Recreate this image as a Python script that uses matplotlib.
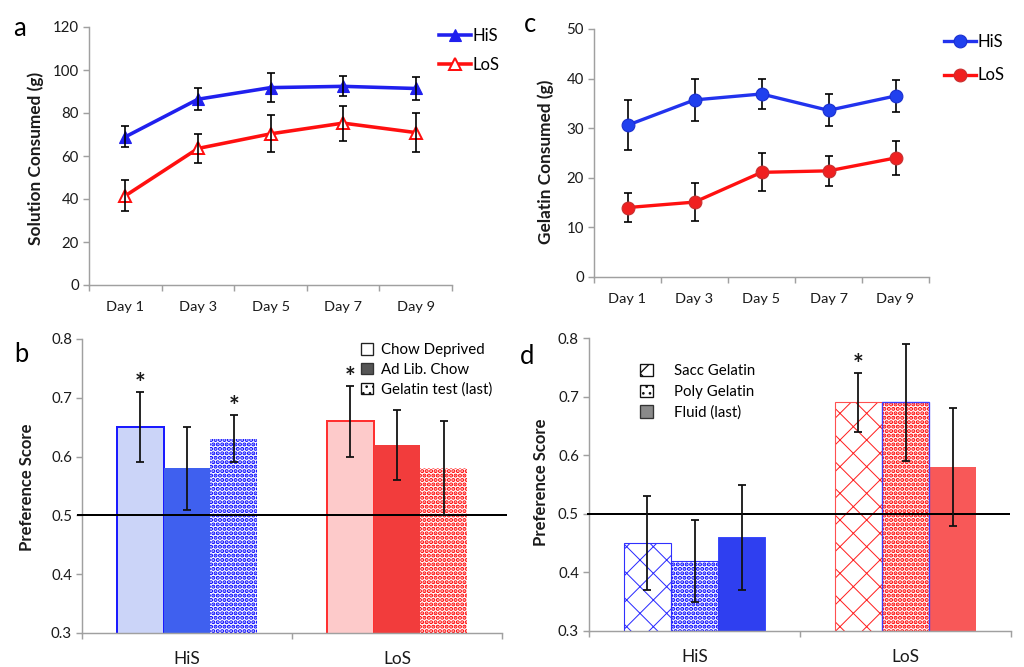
import matplotlib
matplotlib.use("Agg")
import matplotlib.pyplot as plt
from matplotlib.patches import Patch
import numpy as np

plt.rcParams['font.family'] = ['Lato', 'DejaVu Sans']
plt.rcParams['hatch.linewidth'] = 1.2

# ---------------- data ----------------
days = ["Day 1", "Day 3", "Day 5", "Day 7", "Day 9"]

sol_his = [68.9, 86.4, 91.8, 92.4, 91.4]
sol_his_err = [4.9, 5.0, 6.6, 4.6, 5.2]
sol_los = [41.5, 63.5, 70.3, 75.3, 70.9]
sol_los_err = [7.2, 6.8, 8.6, 8.1, 9.0]

gel_his = [30.6, 35.7, 36.9, 33.6, 36.5]
gel_his_err = [5.0, 4.3, 3.0, 3.2, 3.3]
gel_los = [14.0, 15.1, 21.1, 21.4, 24.0]
gel_los_err = [2.9, 3.8, 3.8, 3.0, 3.5]

groups = ["HiS", "LoS"]
b_labels = ["Chow Deprived", "Ad Lib. Chow", "Gelatin test (last)"]
b_chow_dep = [0.65, 0.66]
b_chow_dep_err = [0.06, 0.06]
b_adlib = [0.58, 0.62]
b_adlib_err = [0.07, 0.06]
b_gel = [0.63, 0.58]
b_gel_err = [0.04, 0.08]
b_sig = [[True, False, True], [True, False, False]]

d_labels = ["Sacc Gelatin", "Poly Gelatin", "Fluid (last)"]
d_sacc = [0.45, 0.69]
d_sacc_err = [0.08, 0.05]
d_poly = [0.42, 0.69]
d_poly_err = [0.07, 0.10]
d_fluid = [0.46, 0.58]
d_fluid_err = [0.09, 0.10]
d_sig = [[False, False, False], [True, False, False]]

# ---------------- figure ----------------
DPI = 80
W, H = 1024, 667
fig = plt.figure(figsize=(W / DPI, H / DPI), dpi=DPI)

SPINE = '#a0a0a0'
TXT = '#1a1a1a'
BLUE = '#2020ee'
RED = '#ff1010'
DOT_LW = 2.6


def px_axes(l, t, r, b):
    return fig.add_axes([l / W, 1 - b / H, (r - l) / W, (b - t) / H])


def style_axes(ax, ncat):
    for s in ['top', 'right']:
        ax.spines[s].set_visible(False)
    for s in ['left', 'bottom']:
        ax.spines[s].set_color(SPINE)
        ax.spines[s].set_linewidth(1.3)
    ax.set_xlim(-0.5, ncat - 0.5)
    ax.set_xticks(np.arange(ncat + 1) - 0.5)
    ax.set_xticklabels([])
    ax.tick_params(axis='x', which='major', direction='out', length=5, color=SPINE, width=1.3)
    ax.tick_params(axis='y', which='major', direction='out', length=5, color=SPINE, width=1.3,
                   labelsize=13.5, labelcolor=TXT, pad=4)


def fpx(x, y):
    return x / W, 1 - y / H


# ---------- panel a ----------
ax_a = px_axes(89, 27, 452, 285)
style_axes(ax_a, len(days))
x = np.arange(len(days))
ax_a.set_xticks(x, minor=True)
ax_a.set_xticklabels(days, minor=True)
ax_a.tick_params(axis='x', which='minor', length=0, labelsize=13, labelcolor=TXT, pad=14)
ax_a.set_ylim(0, 120)
ax_a.set_yticks(np.arange(0, 121, 20))
l1, = ax_a.plot(x, sol_his, color=BLUE, lw=3.2, marker='^', ms=11, mfc=BLUE, mec=BLUE, zorder=3,
                label='HiS')
l2, = ax_a.plot(x, sol_los, color=RED, lw=3.2, marker='^', ms=11, mfc='white', mec=RED, mew=1.8,
                zorder=3, label='LoS')
ax_a.errorbar(x, sol_his, yerr=sol_his_err, fmt='none', ecolor='black', elinewidth=1.5,
              capsize=4, capthick=1.5, zorder=4)
ax_a.errorbar(x, sol_los, yerr=sol_los_err, fmt='none', ecolor='black', elinewidth=1.5,
              capsize=4, capthick=1.5, zorder=4)
fig.text(*fpx(36, 158), 'Solution Consumed (g)', rotation=90, ha='center', va='center',
         fontsize=15.5, fontweight='bold', color=TXT)
fig.legend(handles=[l1, l2], loc='upper left', bbox_to_anchor=fpx(439, 28), frameon=False,
           fontsize=15, handlelength=1.9, handletextpad=0.1, labelspacing=0.75, borderpad=0,
           borderaxespad=0)

# ---------- panel c ----------
ax_c = px_axes(594, 29, 929, 277)
style_axes(ax_c, len(days))
ax_c.set_xticks(x, minor=True)
ax_c.set_xticklabels(days, minor=True)
ax_c.tick_params(axis='x', which='minor', length=0, labelsize=13, labelcolor=TXT, pad=14)
ax_c.set_ylim(0, 50)
ax_c.set_yticks(np.arange(0, 51, 10))
ax_c.errorbar(x, gel_his, yerr=gel_his_err, fmt='none', ecolor='black', elinewidth=1.5,
              capsize=4, capthick=1.5, zorder=2)
ax_c.errorbar(x, gel_los, yerr=gel_los_err, fmt='none', ecolor='black', elinewidth=1.5,
              capsize=4, capthick=1.5, zorder=2)
c1, = ax_c.plot(x, gel_his, color='#2233ee', lw=3.0, marker='o', ms=11.5, mfc='#2040ee',
                mec='#1a30d0', zorder=3, label='HiS')
c2, = ax_c.plot(x, gel_los, color='#ff1010', lw=3.0, marker='o', ms=11.5, mfc='#f02020',
                mec='#c83030', zorder=3, label='LoS')
fig.text(*fpx(546, 162), 'Gelatin Consumed (g)', rotation=90, ha='center', va='center',
         fontsize=15.5, fontweight='bold', color=TXT)
fig.legend(handles=[c1, c2], loc='upper left', bbox_to_anchor=fpx(944, 34), frameon=False,
           fontsize=15, handlelength=1.9, handletextpad=0.1, labelspacing=1.05, borderpad=0,
           borderaxespad=0)

BW = 0.223
offs = np.array([-1, 0, 1]) * BW
gx = np.arange(len(groups))


def hatched_bar(ax, xs, vals, hatch, color, lw_hatch, edge=None, edge_lw=1.0):
    with plt.rc_context({'hatch.linewidth': lw_hatch}):
        bars = ax.bar(xs, vals, width=BW, color='white', edgecolor=color, linewidth=0,
                      hatch=hatch, zorder=2)
        for p in bars:
            if hasattr(p, 'set_hatch_linewidth'):
                p.set_hatch_linewidth(lw_hatch)
    if edge is not None:
        ax.bar(xs, vals, width=BW, color='none', edgecolor=edge, linewidth=edge_lw, zorder=2.1)
    return bars


def star_marks(ax, vals, errs, sig, k):
    for g in range(len(groups)):
        if sig[g][k]:
            ax.text(gx[g] + offs[k], vals[g] + errs[g], '*', ha='center', va='baseline',
                    fontsize=23, fontweight='bold', color=TXT, zorder=5)


# ---------- panel b ----------
ax_b = px_axes(82, 339, 502, 633)
style_axes(ax_b, len(groups))
ax_b.set_xticks(gx, minor=True)
ax_b.set_xticklabels(groups, minor=True)
ax_b.tick_params(axis='x', which='minor', length=0, labelsize=15.5, labelcolor=TXT, pad=16)
ax_b.set_ylim(0.3, 0.8)
ax_b.set_yticks(np.arange(0.3, 0.81, 0.1))
ax_b.set_yticklabels([f"{v:.1f}" for v in np.arange(0.3, 0.81, 0.1)])

ax_b.bar(gx[0] + offs[0], b_chow_dep[0], width=BW, color='#cbd4f8', edgecolor='#1a1aff', lw=1.8, zorder=2)
ax_b.bar(gx[1] + offs[0], b_chow_dep[1], width=BW, color='#fdcaca', edgecolor='#ff3030', lw=1.8, zorder=2)
ax_b.bar(gx[0] + offs[1], b_adlib[0], width=BW, color='#3f60ef', lw=0, zorder=2)
ax_b.bar(gx[1] + offs[1], b_adlib[1], width=BW, color='#f23c3c', lw=0, zorder=2)
hatched_bar(ax_b, [gx[0] + offs[2]], [b_gel[0]], '...', '#0000ff', DOT_LW)
hatched_bar(ax_b, [gx[1] + offs[2]], [b_gel[1]], '...', '#ff0000', DOT_LW)
for vals, errs, k in [(b_chow_dep, b_chow_dep_err, 0), (b_adlib, b_adlib_err, 1), (b_gel, b_gel_err, 2)]:
    ax_b.errorbar(gx + offs[k], vals, yerr=errs, fmt='none', ecolor='#111111', elinewidth=1.6,
                  capsize=3.5, capthick=1.6, zorder=4)
    star_marks(ax_b, vals, errs, b_sig, k)
ax_b.axhline(0.5, xmin=-0.01, xmax=1.01, color='black', lw=1.8, zorder=3, clip_on=False)
fig.text(*fpx(27, 487), 'Preference Score', rotation=90, ha='center', va='center',
         fontsize=15, fontweight='bold', color=TXT)
hb = [Patch(facecolor='white', edgecolor='#222222', lw=1.2),
      Patch(facecolor='#555555', edgecolor='#333333', lw=1.2),
      Patch(facecolor='white', edgecolor='#111111', lw=1.2, hatch='..')]
fig.legend(handles=hb, labels=b_labels, loc='upper left', bbox_to_anchor=fpx(361, 343),
           frameon=False, fontsize=13.5, handlelength=0.8, handleheight=0.8, handletextpad=0.55,
           labelspacing=0.38, borderpad=0, borderaxespad=0)

# ---------- panel d ----------
ax_d = px_axes(589, 338, 1011, 631)
style_axes(ax_d, len(groups))
ax_d.set_xticks(gx, minor=True)
ax_d.set_xticklabels(groups, minor=True)
ax_d.tick_params(axis='x', which='minor', length=0, labelsize=15.5, labelcolor=TXT, pad=16)
ax_d.set_ylim(0.3, 0.8)
ax_d.set_yticks(np.arange(0.3, 0.81, 0.1))
ax_d.set_yticklabels([f"{v:.1f}" for v in np.arange(0.3, 0.81, 0.1)])

hatched_bar(ax_d, [gx[0] + offs[0]], [d_sacc[0]], 'x', '#2a2aff', 0.9, edge='#3030ff', edge_lw=1.0)
hatched_bar(ax_d, [gx[1] + offs[0]], [d_sacc[1]], 'x', '#ff2020', 0.9, edge='#ff5050', edge_lw=1.0)
hatched_bar(ax_d, [gx[0] + offs[1]], [d_poly[0]], '...', '#0000ff', DOT_LW, edge='#3030ff', edge_lw=1.0)
hatched_bar(ax_d, [gx[1] + offs[1]], [d_poly[1]], '...', '#ff0000', DOT_LW, edge='#4040ff', edge_lw=1.2)
ax_d.bar(gx[0] + offs[2], d_fluid[0], width=BW, color='#2f3ff0', edgecolor='#3040ff', lw=0.8, zorder=2)
ax_d.bar(gx[1] + offs[2], d_fluid[1], width=BW, color='#f85858', lw=0, zorder=2)
for vals, errs, k in [(d_sacc, d_sacc_err, 0), (d_poly, d_poly_err, 1), (d_fluid, d_fluid_err, 2)]:
    ax_d.errorbar(gx + offs[k], vals, yerr=errs, fmt='none', ecolor='#111111', elinewidth=1.6,
                  capsize=3.5, capthick=1.6, zorder=4)
    star_marks(ax_d, vals, errs, d_sig, k)
ax_d.axhline(0.5, xmin=-0.003, xmax=0.995, color='black', lw=1.8, zorder=3, clip_on=False)
fig.text(*fpx(541, 482), 'Preference Score', rotation=90, ha='center', va='center',
         fontsize=15, fontweight='bold', color=TXT)
hd = [Patch(facecolor='white', edgecolor='#111111', lw=1.2, hatch='x'),
      Patch(facecolor='white', edgecolor='#111111', lw=1.2, hatch='..'),
      Patch(facecolor='#8a8a8a', edgecolor='#333333', lw=1.2)]
fig.legend(handles=hd, labels=d_labels, loc='upper left', bbox_to_anchor=fpx(640, 364),
           frameon=False, fontsize=13.5, handlelength=0.85, handleheight=0.9, handletextpad=1.45,
           labelspacing=0.42, borderpad=0, borderaxespad=0)

# panel letters
for letter, (px, py) in zip("acbd", [(19, 29), (530, 25), (21, 355), (527, 357)]):
    fig.text(*fpx(px, py), letter, ha='center', va='center', fontsize=23, color='black')

fig.savefig("out.png", dpi=DPI)
